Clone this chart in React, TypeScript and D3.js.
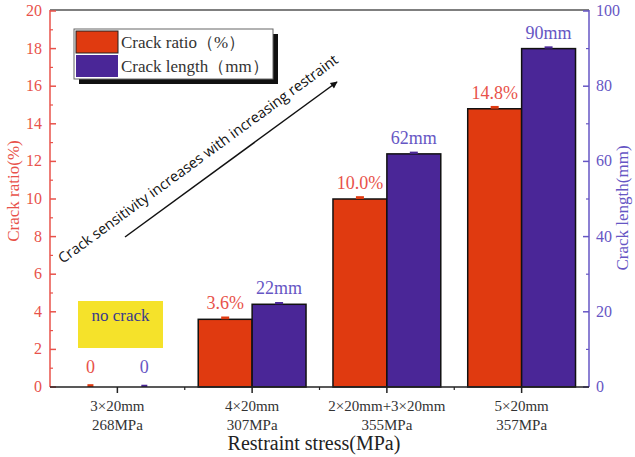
import React from "react";
import * as d3 from "d3";

const categories = ["3×20mm|268MPa", "4×20mm|307MPa", "2×20mm+3×20mm|355MPa", "5×20mm|357MPa"];
const crackRatio = [0, 3.6, 10.0, 14.8];
const crackRatioErr = [0.15, 0.15, 0.15, 0.15];
const crackLength = [0, 22, 62, 90];
const crackLengthErr = [0.6, 0.6, 0.6, 0.6];
const ratioLabels = ["0", "3.6%", "10.0%", "14.8%"];
const lengthLabels = ["0", "22mm", "62mm", "90mm"];
const leftTicks = [0, 2, 4, 6, 8, 10, 12, 14, 16, 18, 20];
const rightTicks = [0, 20, 40, 60, 80, 100];

const RED = "#e03a10";
const PURPLE = "#4a2697";
const RED_TXT = "#e8524a";
const PURPLE_TXT = "#6656c4";
const SERIF = "'Liberation Serif', 'Times New Roman', serif";

export default function App() {
  const W = 635, H = 457;
  const x0 = 50, x1 = 589, yTop = 10, yBot = 387;
  const x = d3.scaleBand<string>().domain(categories).range([x0, x1]).paddingInner(0.2).paddingOuter(0.1);
  const sub = d3.scaleBand<string>().domain(["r", "l"]).range([0, x.bandwidth()]);
  const yL = d3.scaleLinear().domain([0, 20]).range([yBot, yTop + 1]);
  const yR = d3.scaleLinear().domain([0, 100]).range([yBot, yTop + 1]);
  const minorL = d3.range(1, 20, 2);
  const minorR = d3.range(10, 100, 20);
  const step = x.step();

  const arrowStart = [125, 237];
  const arrowEnd = [337, 82];
  const ang = (Math.atan2(arrowEnd[1] - arrowStart[1], arrowEnd[0] - arrowStart[0]) * 180) / Math.PI;

  return (
    <svg width={W} height={H} style={{ position: "absolute", left: 0, top: 0, background: "#fff" }}>
      <defs>
        <marker id="ah" viewBox="0 0 10 10" refX="9" refY="5" markerWidth="9" markerHeight="7" orient="auto" markerUnits="userSpaceOnUse">
          <path d="M0,0 L10,5 L0,10 z" fill="#111" />
        </marker>
      </defs>
      <rect x={0} y={0} width={W} height={H} fill="#fff" />
      {/* top frame */}
      <line x1={x0} x2={x1} y1={yTop} y2={yTop} stroke="#555" strokeWidth={1.5} />

      {/* bars */}
      {categories.map((c, i) => {
        const bx = x(c)!;
        const rx = bx + sub("r")!;
        const lx = bx + sub("l")!;
        const bw = sub.bandwidth();
        const rv = crackRatio[i];
        const lv = crackLength[i];
        return (
          <g key={c}>
            {rv > 0 && (
              <rect x={rx} y={yL(rv)} width={bw} height={yL(0) - yL(rv)} fill={RED} stroke="#111" strokeWidth={1.5} />
            )}
            {lv > 0 && (
              <rect x={lx} y={yR(lv)} width={bw} height={yR(0) - yR(lv)} fill={PURPLE} stroke="#111" strokeWidth={1.5} />
            )}
            <rect x={rx + bw / 2 - (rv > 0 ? 4 : 3)} y={yL(rv + crackRatioErr[i])} width={rv > 0 ? 8 : 6}
              height={yL(rv) - yL(rv + crackRatioErr[i])} fill={RED} />
            <rect x={lx + bw / 2 - (lv > 0 ? 4 : 3)} y={yR(lv + crackLengthErr[i])} width={lv > 0 ? 8 : 6}
              height={yR(lv) - yR(lv + crackLengthErr[i])} fill={PURPLE} />
            <text x={rx + bw / 2} y={yL(rv) - (rv > 0 ? 10 : 14)} textAnchor="middle" fill={RED_TXT}
              fontFamily={SERIF} fontSize={18}>{ratioLabels[i]}</text>
            <text x={lx + bw / 2} y={yR(lv) - (lv > 0 ? 10 : 14)} textAnchor="middle" fill={PURPLE_TXT}
              fontFamily={SERIF} fontSize={18}>{lengthLabels[i]}</text>
          </g>
        );
      })}

      {/* left axis */}
      <line x1={x0} x2={x0} y1={yTop} y2={yBot} stroke={RED_TXT} strokeWidth={1.5} />
      {leftTicks.map((t) => (
        <g key={"l" + t}>
          <line x1={x0} x2={x0 + 6} y1={yL(t)} y2={yL(t)} stroke={RED_TXT} strokeWidth={1.5} />
          <text x={x0 - 8} y={yL(t) + 5} textAnchor="end" fill={RED_TXT} fontFamily={SERIF} fontSize={16}>{t}</text>
        </g>
      ))}
      {minorL.map((t) => (
        <line key={"lm" + t} x1={x0} x2={x0 + 3} y1={yL(t)} y2={yL(t)} stroke={RED_TXT} strokeWidth={1.2} />
      ))}
      <text transform={`translate(19,191) rotate(-90)`} textAnchor="middle" fill={RED_TXT} fontFamily={SERIF} fontSize={17}>Crack ratio(%)</text>

      {/* right axis */}
      <line x1={x1} x2={x1} y1={yTop} y2={yBot} stroke={PURPLE_TXT} strokeWidth={1.5} />
      {rightTicks.map((t) => (
        <g key={"r" + t}>
          <line x1={x1} x2={x1 - 6} y1={yR(t)} y2={yR(t)} stroke={PURPLE_TXT} strokeWidth={1.5} />
          <text x={x1 + 7} y={yR(t) + 5} textAnchor="start" fill={PURPLE_TXT} fontFamily={SERIF} fontSize={16}>{t}</text>
        </g>
      ))}
      {minorR.map((t) => (
        <line key={"rm" + t} x1={x1} x2={x1 - 3} y1={yR(t)} y2={yR(t)} stroke={PURPLE_TXT} strokeWidth={1.2} />
      ))}
      <text transform={`translate(628,208) rotate(-90)`} textAnchor="middle" fill={PURPLE_TXT} fontFamily={SERIF} fontSize={17}>Crack length(mm)</text>

      {/* bottom axis */}
      <line x1={x0} x2={x1} y1={yBot} y2={yBot} stroke="#222" strokeWidth={1.5} />
      {categories.map((c, i) => {
        const cx = x(c)! + x.bandwidth() / 2;
        const [l1, l2] = c.split("|");
        return (
          <g key={"x" + c}>
            <line x1={cx} x2={cx} y1={yBot} y2={yBot + 6} stroke="#222" strokeWidth={1.5} />
            {i > 0 && (
              <line x1={x0 + step * i} x2={x0 + step * i} y1={yBot} y2={yBot + 3} stroke="#222" strokeWidth={1.2} />
            )}
            <text x={cx} y={411} textAnchor="middle" fill="#333" fontFamily={SERIF} fontSize={15}>{l1}</text>
            <text x={cx} y={430} textAnchor="middle" fill="#333" fontFamily={SERIF} fontSize={15}>{l2}</text>
          </g>
        );
      })}
      <text x={314} y={450} textAnchor="middle" fill="#222" fontFamily={SERIF} fontSize={20}>Restraint stress(MPa)</text>

      {/* legend */}
      <rect x={79} y={34} width={199} height={50} fill="#111" />
      <rect x={74} y={29} width={199} height={50} fill="#fff" stroke="#666" strokeWidth={1} />
      <rect x={76} y={31} width={42} height={22} fill={RED} stroke="#222" strokeWidth={1} />
      <rect x={76} y={55} width={42} height={22} fill={PURPLE} />
      <text x={121} y={48} fill="#333" fontFamily={SERIF} fontSize={17}>Crack ratio（%）</text>
      <text x={121} y={72} fill="#333" fontFamily={SERIF} fontSize={17}>Crack length（mm）</text>

      {/* no crack box */}
      <rect x={78} y={301} width={85} height={47} fill="#f5e22a" />
      <text x={120.5} y={321} textAnchor="middle" fill="#3a3a8c" fontFamily={SERIF} fontSize={17}>no crack</text>

      {/* arrow + annotation */}
      <line x1={arrowStart[0]} y1={arrowStart[1]} x2={arrowEnd[0]} y2={arrowEnd[1]} stroke="#111" strokeWidth={1.5} markerEnd="url(#ah)" />
      <text transform={`translate(201,163) rotate(${ang})`} textAnchor="middle" fill="#111" fontFamily="'Open Sans', sans-serif" fontSize={14.5}>
        Crack sensitivity increases with increasing restraint
      </text>
    </svg>
  );
}
